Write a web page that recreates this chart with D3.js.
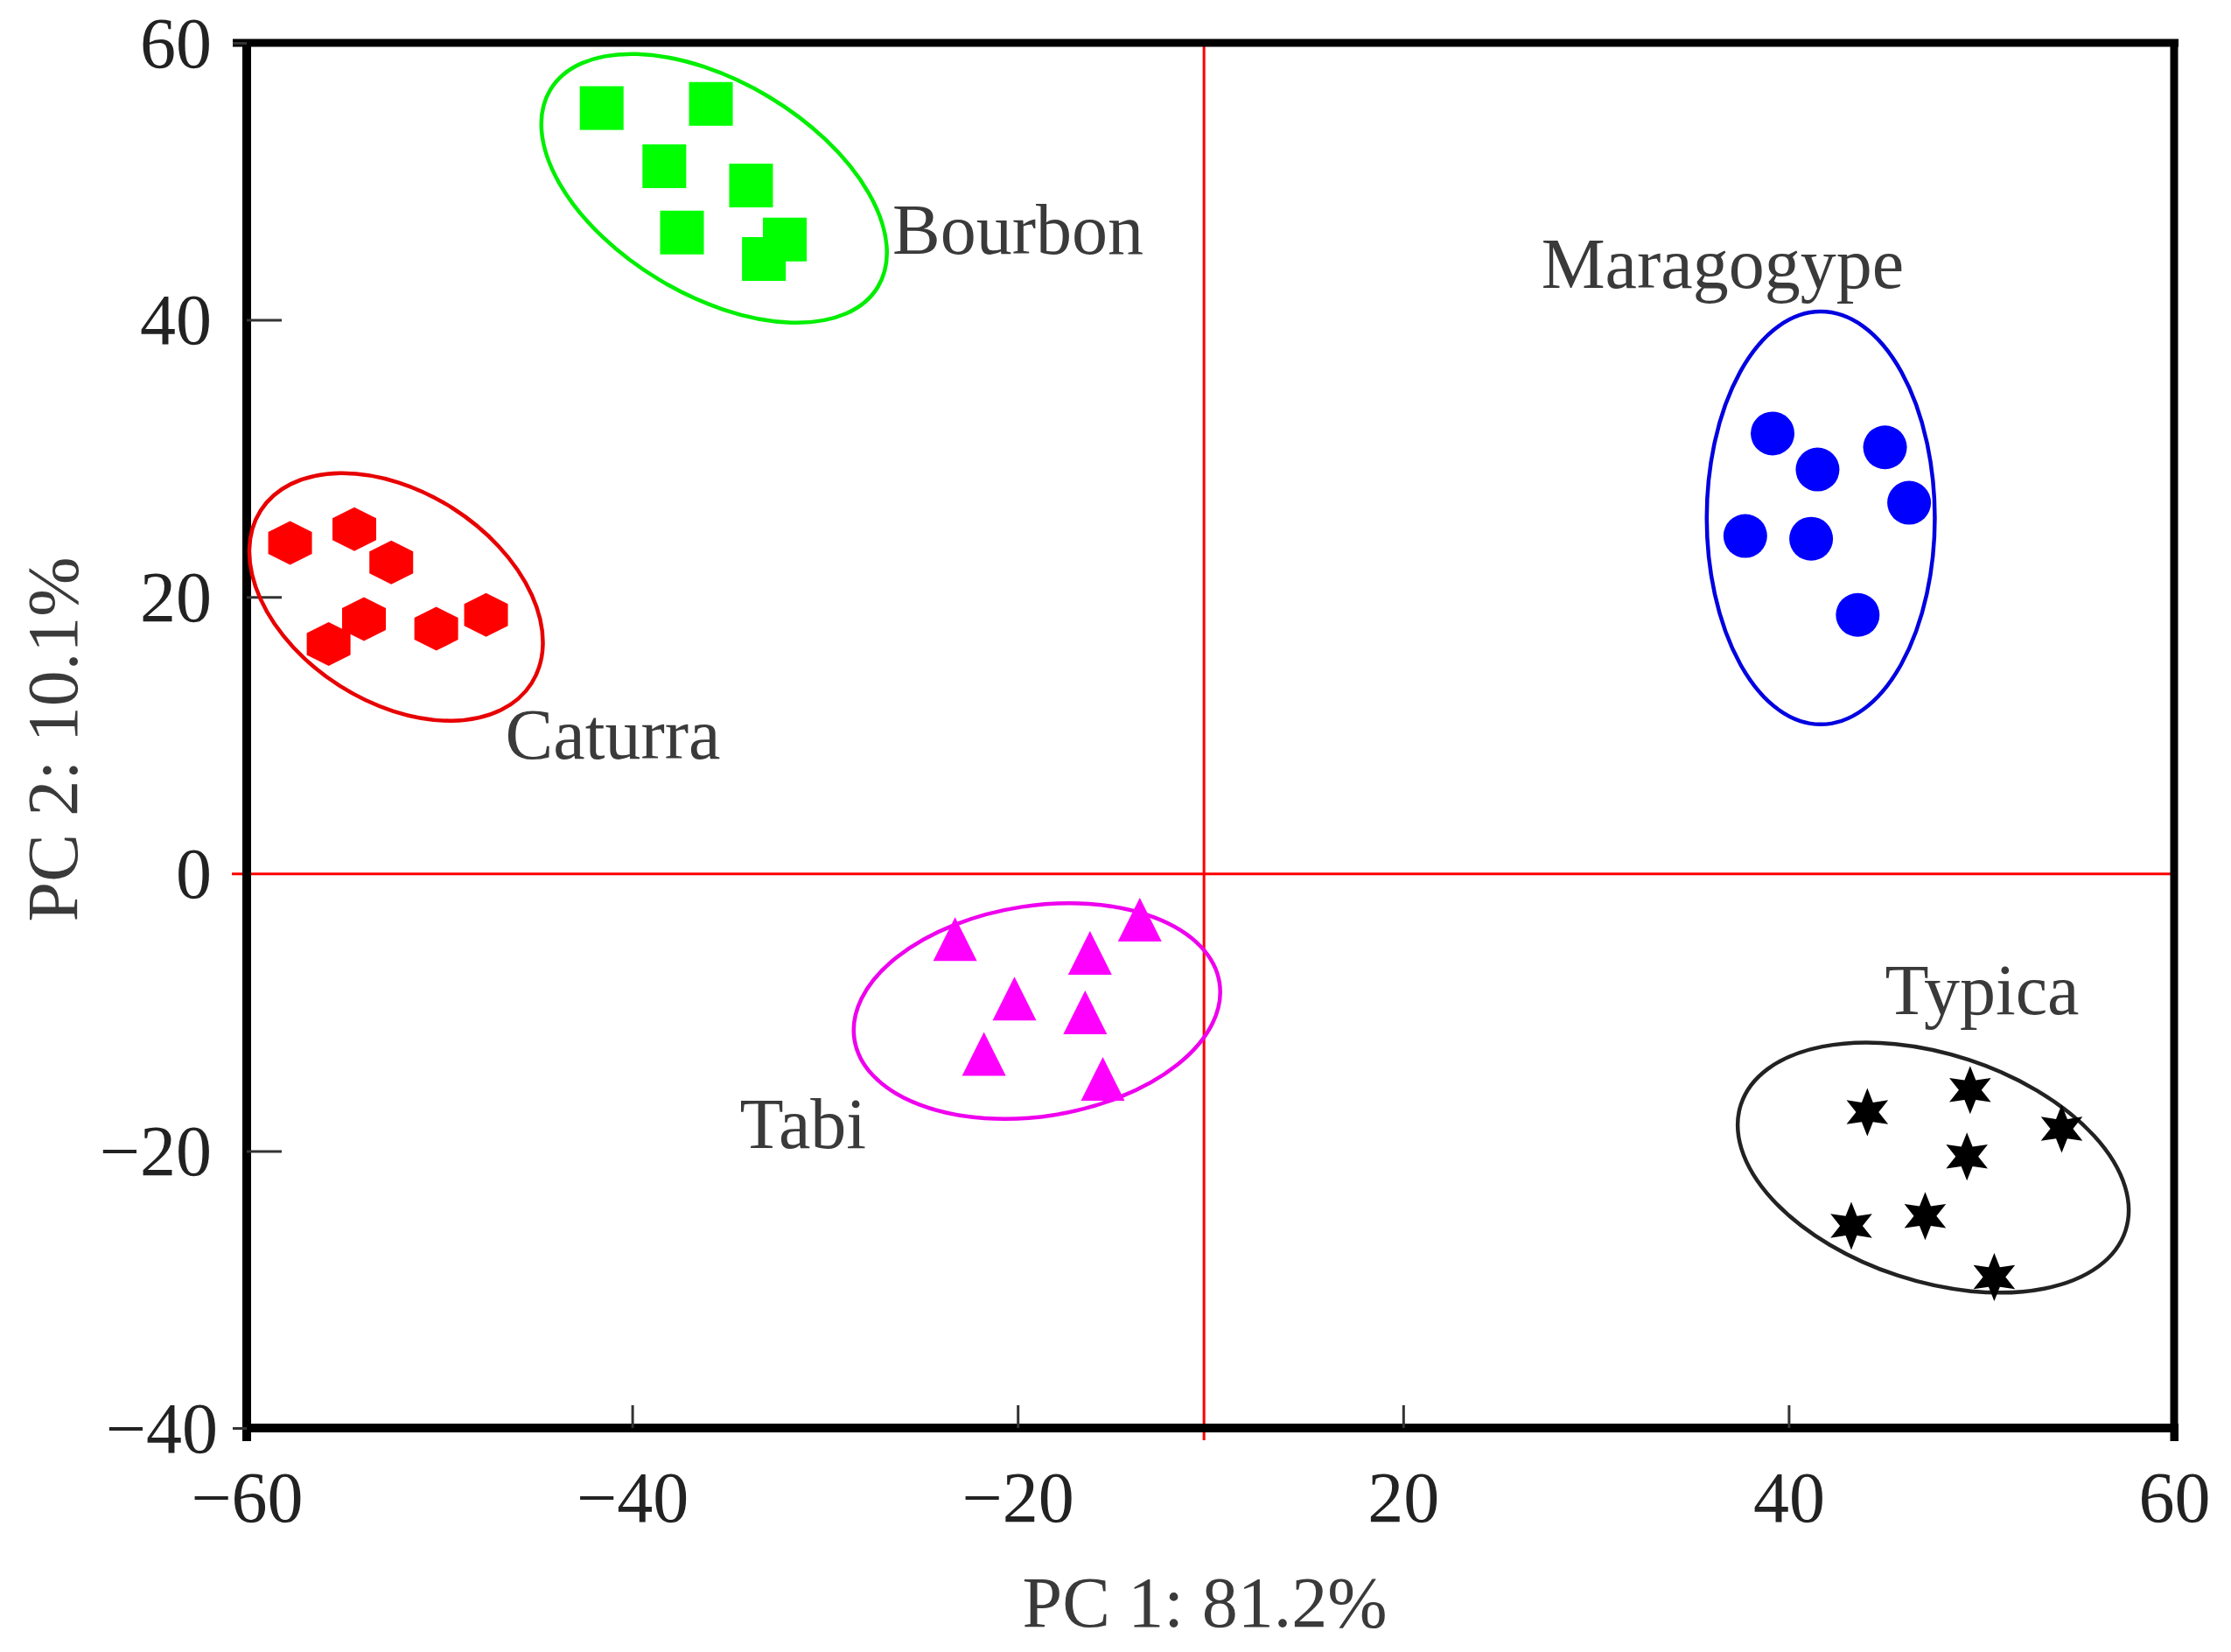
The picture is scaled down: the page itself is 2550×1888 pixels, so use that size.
<!DOCTYPE html>
<html>
<head>
<meta charset="utf-8">
<script src="https://cdn.jsdelivr.net/npm/d3@7"></script>
<style>
  body { margin: 0; background: #fff; }
  text { font-family: "Liberation Serif", "Times New Roman", serif; }
</style>
</head>
<body>
<div id="chart"></div>
<script>
const w = 2550;
const h = 1888;

// groups (PCA score clusters)
const groups = ["Bourbon", "Caturra", "Maragogype", "Tabi", "Typica"];

// PC1 / PC2 scores
const bourbonPC1 = [-37.9, -31.1, -34.0, -28.6, -32.9, -26.5, -27.8];
const bourbonPC2 = [55.3, 55.6, 51.1, 49.7, 46.3, 45.8, 44.4];
const caturraPC1 = [-57.3, -53.3, -51.0, -52.7, -54.9, -48.2, -45.1];
const caturraPC2 = [23.9, 24.9, 22.5, 18.4, 16.6, 17.7, 18.7];
const maragogypePC1 = [35.0, 37.8, 42.0, 43.5, 33.3, 37.4, 40.3];
const maragogypePC2 = [31.8, 29.2, 30.8, 26.8, 24.4, 24.2, 18.7];
const tabiPC1 = [-15.9, -4.4, -7.5, -12.2, -7.8, -14.1, -6.7];
const tabiPC2 = [-4.7, -3.3, -5.7, -9.0, -10.0, -13.0, -14.8];
const typicaPC1 = [47.3, 40.9, 53.0, 47.1, 44.5, 39.9, 48.8];
const typicaPC2 = [-15.6, -17.2, -18.4, -20.4, -24.7, -25.4, -29.1];

// confidence ellipses: centre, half axes (rx in PC1 units, ry in PC2 units), tilt in degrees
const ellipseCX = [-30.9, -50.7, 38.0, -10.8, 45.0];
const ellipseCY = [49.5, 20.0, 25.7, -9.9, -21.2];
const ellipseRX = [11.9, 10.0, 7.1, 11.5, 12.6];
const ellipseRY = [7.7, 7.6, 14.9, 7.6, 8.2];
const ellipseTilt = [31, 32.5, 0, -8.8, 18.2];

// group label anchors (start of text, baseline)
const labelPC1 = [-19.8, -43.9, 20.6, -29.3, 42.0];
const labelPC2 = [44.8, 8.3, 42.3, -19.8, -10.1];

// axes
const xTickPos = [-60, -36, -12, 12, 36, 60];
const xTickLabels = ["\u221260", "\u221240", "\u221220", "20", "40", "60"];
const yTicks = [60, 40, 20, 0, -20, -40];
const xTitle = "PC 1: 81.2%";
const yTitle = "PC 2: 10.1%";
const refX = -0.4;
const refY = 0;

const pc1 = [bourbonPC1, caturraPC1, maragogypePC1, tabiPC1, typicaPC1];
const pc2 = [bourbonPC2, caturraPC2, maragogypePC2, tabiPC2, typicaPC2];

// styles
const fills = ["#00ff00", "#ff0000", "#0000ff", "#ff00ff", "#000000"];
const rings = ["#00ee00", "#e80000", "#0000e0", "#ee00ee", "#222222"];

const hexagon = {
    draw(ctx, size) {
        const r = Math.sqrt(size) / 2;
        ctx.moveTo(0, -r);
        ctx.lineTo(r, -r / 2);
        ctx.lineTo(r, r / 2);
        ctx.lineTo(0, r);
        ctx.lineTo(-r, r / 2);
        ctx.lineTo(-r, -r / 2);
        ctx.closePath();
    }
};
const triangle = {
    draw(ctx, size) {
        const r = Math.sqrt(size) / 2;
        ctx.moveTo(0, -r);
        ctx.lineTo(r, r);
        ctx.lineTo(-r, r);
        ctx.closePath();
    }
};
const star6 = {
    draw(ctx, size) {
        const R = Math.sqrt(size) / 2;
        const r = R * 0.47;
        for (let i = 0; i < 12; i++) {
            const a = -Math.PI / 2 + i * Math.PI / 6;
            const rr = i % 2 === 0 ? R : r;
            if (i === 0) ctx.moveTo(rr * Math.cos(a), rr * Math.sin(a));
            else ctx.lineTo(rr * Math.cos(a), rr * Math.sin(a));
        }
        ctx.closePath();
    }
};
const shapes = [d3.symbolSquare, hexagon, d3.symbolCircle, triangle, star6];
const sizes = [2500, 2500, 1963, 2500, 3025];

const padLeft = 282, padRight = 2485, padTop = 49, padBottom = 1632;

const xScale = d3.scaleLinear().domain([-60, 60]).range([padLeft, padRight]);
const yScale = d3.scaleLinear().domain([-40, 60]).range([padBottom, padTop]);

const svg = d3.select("#chart")
    .append("svg")
    .attr("width", w)
    .attr("height", h)
    .style("background", "#fff");

// reference lines through the origin
svg.append("line")
    .attr("x1", padLeft - 17).attr("x2", padRight)
    .attr("y1", yScale(refY)).attr("y2", yScale(refY))
    .attr("stroke", "#ff0000").attr("stroke-width", 3);
svg.append("line")
    .attr("x1", xScale(refX)).attr("x2", xScale(refX))
    .attr("y1", padTop).attr("y2", padBottom + 14)
    .attr("stroke", "#ff0000").attr("stroke-width", 3);

// frame (top and right)
svg.append("line")
    .attr("x1", padLeft - 16).attr("x2", padRight + 5)
    .attr("y1", padTop).attr("y2", padTop)
    .attr("stroke", "#000").attr("stroke-width", 9);
svg.append("line")
    .attr("x1", padRight).attr("x2", padRight)
    .attr("y1", padTop).attr("y2", padBottom + 15)
    .attr("stroke", "#000").attr("stroke-width", 9);

// axes
const xAxis = d3.axisBottom(xScale)
    .tickValues(xTickPos)
    .tickFormat((d, i) => xTickLabels[i])
    .tickSizeOuter(0);
const gx = svg.append("g")
    .attr("transform", "translate(0," + padBottom + ")")
    .call(xAxis)
    .attr("font-family", null);
gx.select(".domain").attr("stroke", "#000").attr("stroke-width", 10)
    .attr("d", "M" + (padLeft - 5) + ",0H" + (padRight + 5));
gx.selectAll(".tick line")
    .attr("stroke", "#333").attr("stroke-width", 3)
    .attr("y2", d => (d === -60 || d === 60) ? 15 : -26);
gx.selectAll(".tick line").filter(d => d === -60 || d === 60)
    .attr("stroke", "#000").attr("stroke-width", 9);
gx.selectAll(".tick text")
    .attr("y", 107).attr("dy", 0)
    .attr("font-size", 82)
    .attr("fill", "#222");

const yAxis = d3.axisLeft(yScale)
    .tickValues(yTicks)
    .tickSizeOuter(0)
    .tickFormat(d => d < 0 ? "\u2212" + Math.abs(d) : d);
const gy = svg.append("g")
    .attr("transform", "translate(" + padLeft + ",0)")
    .call(yAxis)
    .attr("font-family", null);
gy.select(".domain").attr("stroke", "#000").attr("stroke-width", 10)
    .attr("d", "M0," + (padTop - 4) + "V" + (padBottom + 15));
gy.selectAll(".tick line")
    .attr("stroke", "#333").attr("stroke-width", 3)
    .attr("x2", d => (d === 60 || d === -40) ? -16 : (d === 0 ? 0 : 40));
gy.selectAll(".tick text")
    .attr("x", d => d === -40 ? -33 : -40).attr("dy", 27)
    .attr("font-size", 82)
    .attr("fill", "#222");

// axis titles
svg.append("text")
    .attr("x", 1377).attr("y", 1859)
    .attr("text-anchor", "middle")
    .attr("font-size", 82)
    .attr("fill", "#3a3a3a")
    .text(xTitle);
svg.append("text")
    .attr("transform", "translate(88,845) rotate(-90)")
    .attr("text-anchor", "middle")
    .attr("font-size", 82)
    .attr("fill", "#3a3a3a")
    .text(yTitle);

// ellipses
groups.forEach((g, i) => {
    const cx = xScale(ellipseCX[i]);
    const cy = yScale(ellipseCY[i]);
    svg.append("ellipse")
        .attr("cx", cx).attr("cy", cy)
        .attr("rx", xScale(ellipseCX[i] + ellipseRX[i]) - cx)
        .attr("ry", cy - yScale(ellipseCY[i] + ellipseRY[i]))
        .attr("transform", "rotate(" + ellipseTilt[i] + "," + cx + "," + cy + ")")
        .attr("fill", "none")
        .attr("stroke", rings[i])
        .attr("stroke-width", 4.5);
});

// points
groups.forEach((g, i) => {
    const pts = pc1[i].map((v, j) => [v, pc2[i][j]]);
    const sym = d3.symbol().type(shapes[i]).size(sizes[i]);
    svg.append("g")
        .selectAll("path")
        .data(pts)
        .enter()
        .append("path")
        .attr("d", sym)
        .attr("transform", d => "translate(" + xScale(d[0]) + "," + yScale(d[1]) + ")")
        .attr("fill", fills[i]);
});

// group labels
svg.append("g")
    .selectAll("text")
    .data(groups)
    .enter()
    .append("text")
    .attr("x", (d, i) => xScale(labelPC1[i]))
    .attr("y", (d, i) => yScale(labelPC2[i]))
    .attr("font-size", 82)
    .attr("fill", "#3a3a3a")
    .text(d => d);
</script>
</body>
</html>
